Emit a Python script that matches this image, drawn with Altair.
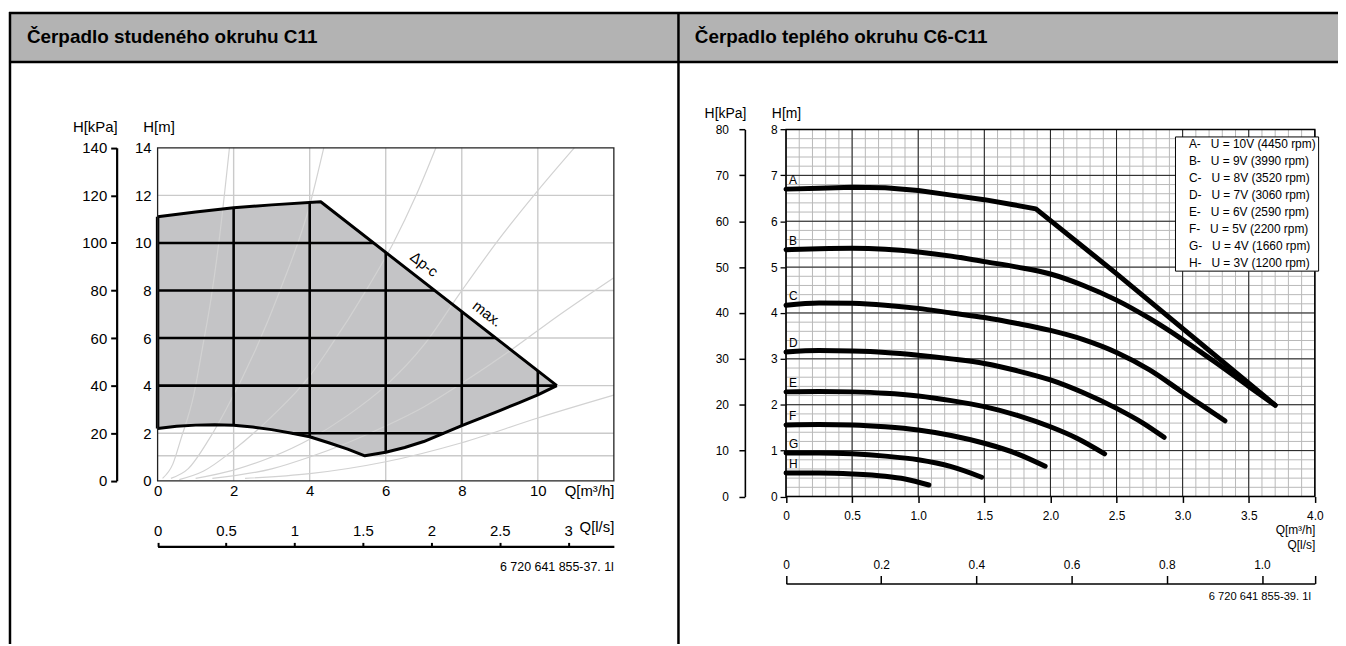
import altair as alt
import numpy as np
import pandas as pd

FONT = "Liberation Sans"
W, H = 1338, 638

# ---------------- texts ----------------
TITLE_LEFT = "Čerpadlo studeného okruhu C11"
TITLE_RIGHT = "Čerpadlo teplého okruhu C6-C11"
NOTE_LEFT = "6 720 641 855-37. 1l"
NOTE_RIGHT = "6 720 641 855-39. 1l"

# ---------------- left chart data ----------------
L_Q_MAX = 12
L_H_MAX = 14
L_KPA_MAX = 140
M3H_PER_LS = 3.6
L_Q_TICKS = [0, 2, 4, 6, 8, 10]
L_H_TICKS = [0, 2, 4, 6, 8, 10, 12, 14]
L_KPA_TICKS = [0, 20, 40, 60, 80, 100, 120, 140]
L_LS_TICKS = [0, 0.5, 1, 1.5, 2, 2.5, 3]
L_GRID_Q = [2, 4, 6, 8, 10]
L_GRID_H = [1.05, 2, 4, 6, 8, 10, 12]
L_BLACK_H = [2, 4, 6, 8, 10, 12]

UPPER_Q = [0, 1, 2, 3, 4.29, 10.5]
UPPER_H = [11.1, 11.3, 11.48, 11.6, 11.73, 4.0]
LOWER_Q = [0, 0.5, 1.0, 1.5, 2.0, 2.5, 3.0, 3.5, 4.0, 4.5, 5.0, 5.45, 6.0, 6.5,
           7.0, 7.5, 8.0, 8.5, 9.0, 9.5, 10.0, 10.5]
LOWER_H = [2.2, 2.29, 2.34, 2.36, 2.33, 2.26, 2.15, 2.01, 1.85, 1.6, 1.33, 1.05, 1.2, 1.4,
           1.65, 1.98, 2.32, 2.63, 2.95, 3.28, 3.61, 4.0]

SYS_Q = {
    "s1": [0.13, 0.4, 0.61, 0.95, 1.17, 1.4, 1.61, 1.89],
    "s2": [0.35, 0.8, 1.35, 1.8, 2.57, 3.22, 4.02, 4.37],
    "s3": [0.57, 1.2, 2.0, 3.0, 4.0, 4.48, 5.52, 6.2, 6.8, 7.32],
    "s4": [1.0, 2.0, 3.0, 4.0, 5.0, 6.0, 7.0, 7.94, 9.0, 10.0, 10.96],
    "s5": [1.44, 3.0, 4.0, 5.0, 6.0, 7.0, 8.0, 9.3, 10.5, 12.0],
    "s6": [2.3, 4.0, 6.0, 8.0, 10.0, 12.0],
}
SYS_H = {
    "s1": [0.1, 0.7, 1.74, 3.6, 5.5, 7.6, 10.0, 14.0],
    "s2": [0.1, 0.5, 1.74, 3.0, 5.49, 8.0, 11.7, 14.0],
    "s3": [0.05, 0.4, 1.3, 2.7, 4.4, 5.49, 8.1, 10.0, 12.0, 14.0],
    "s4": [0.1, 0.45, 1.0, 1.75, 2.75, 4.0, 5.7, 7.86, 10.2, 12.2, 14.0],
    "s5": [0.1, 0.5, 1.0, 1.6, 2.3, 3.1, 4.1, 5.5, 6.9, 8.54],
    "s6": [0.1, 0.3, 0.8, 1.6, 2.64, 3.6],
}

ANNOT_TEXT = ["Δp-c", "max."]
ANNOT_Q = [7.01, 8.67]
ANNOT_H = [9.1, 7.02]

# ---------------- right chart data ----------------
R_Q_MAX = 4
R_H_MAX = 8
R_KPA_MAX = 80
R_Q_TICKS = [0, 0.5, 1.0, 1.5, 2.0, 2.5, 3.0, 3.5, 4.0]
R_H_TICKS = [0, 1, 2, 3, 4, 5, 6, 7, 8]
R_KPA_TICKS = [0, 10, 20, 30, 40, 50, 60, 70, 80]
R_LS_TICKS = [0, 0.2, 0.4, 0.6, 0.8, 1.0, R_Q_MAX / M3H_PER_LS]
R_MINOR_Q = [i / 10 for i in range(41)]
R_MINOR_H = [i / 5 for i in range(41)]

CURVE_NAMES = ["A", "B", "C", "D", "E", "F", "G", "H"]
CURVE_U = ["10V (4450 rpm)", "9V (3990 rpm)", "8V (3520 rpm)", "7V (3060 rpm)",
           "6V (2590 rpm)", "5V (2200 rpm)", "4V (1660 rpm)", "3V (1200 rpm)"]
CURVE_Q = {
    "A": [0, 0.25, 0.5, 0.75, 1.0, 1.25, 1.5, 1.72, 1.89, 2.49, 3.70],
    "B": [0, 0.25, 0.5, 0.75, 1.0, 1.25, 1.5, 1.75, 2.0, 2.25, 2.5, 2.75, 3.0, 3.25, 3.5, 3.70],
    "C": [0, 0.25, 0.5, 0.75, 1.0, 1.25, 1.5, 1.75, 2.0, 2.25, 2.5, 2.75, 3.0, 3.15, 3.32],
    "D": [0, 0.25, 0.5, 0.75, 1.0, 1.25, 1.5, 1.75, 2.0, 2.25, 2.5, 2.7, 2.86],
    "E": [0, 0.25, 0.5, 0.75, 1.0, 1.25, 1.5, 1.75, 2.0, 2.2, 2.41],
    "F": [0, 0.25, 0.5, 0.75, 1.0, 1.25, 1.5, 1.75, 1.96],
    "G": [0, 0.25, 0.5, 0.75, 1.0, 1.25, 1.48],
    "H": [0, 0.25, 0.5, 0.75, 0.9, 1.08],
}
CURVE_H = {
    "A": [6.70, 6.72, 6.74, 6.73, 6.67, 6.57, 6.47, 6.36, 6.27, 4.88, 1.99],
    "B": [5.38, 5.40, 5.41, 5.39, 5.33, 5.24, 5.12, 5.0, 4.85, 4.6, 4.28, 3.88, 3.42, 2.92, 2.4, 1.99],
    "C": [4.17, 4.22, 4.21, 4.17, 4.10, 4.0, 3.9, 3.77, 3.62, 3.42, 3.14, 2.76, 2.27, 1.98, 1.65],
    "D": [3.15, 3.18, 3.17, 3.14, 3.08, 3.0, 2.9, 2.74, 2.54, 2.26, 1.92, 1.6, 1.29],
    "E": [2.28, 2.29, 2.28, 2.25, 2.19, 2.09, 1.96, 1.77, 1.52, 1.27, 0.93],
    "F": [1.56, 1.57, 1.56, 1.52, 1.45, 1.33, 1.16, 0.93, 0.66],
    "G": [0.95, 0.95, 0.93, 0.88, 0.80, 0.65, 0.42],
    "H": [0.51, 0.51, 0.49, 0.44, 0.38, 0.25],
}

# ---------------- layout (pixels inside the single view) ----------------
L_XR = [150.5, 609.5]
L_YR = [473.7, 138.7]
L_KPA_X = 109.3
L_LS_Y = 539.7
R_XR = [782.7, 1314.7]
R_YR = [489.5, 120.3]
R_KPA_X = 741.3
R_LS_Y = 577.0

GRID_LIGHT = "#cacaca"
FILL_GREY = "#c4c4c6"
SYS_GREY = "#d2d2d2"

ONE = pd.DataFrame({"k": [0]})


def axis(orient, offset, values, fs, **kw):
    base = dict(orient=orient, offset=offset, values=values, labelFont=FONT, labelFontSize=fs,
                labelColor="black", labelFlush=False, labelOverlap=False, labelBound=False,
                grid=False, titleFont=FONT, titleFontSize=fs, titleFontWeight="normal",
                titleColor="black", titleAngle=0, tickColor="black", domainColor="black")
    base.update(kw)
    return alt.Axis(**base)


def sc(domain, rng):
    return alt.Scale(domain=domain, range=rng, nice=False, zero=False)


def axis_layer(values, channel, scale, ax):
    df = pd.DataFrame({"v": values})
    if channel == "x":
        enc = alt.X("v:Q", scale=scale, axis=ax)
        return alt.Chart(df).mark_point(opacity=0).encode(x=enc)
    enc = alt.Y("v:Q", scale=scale, axis=ax)
    return alt.Chart(df).mark_point(opacity=0).encode(y=enc)


# ============ decoration (frame + header) ============
deco = [
    alt.Chart(ONE).mark_rect(color="#b3b3b3").encode(
        x=alt.value(2), x2=alt.value(W), y=alt.value(3), y2=alt.value(52.5)),
    alt.Chart(ONE).mark_rule(color="black", strokeWidth=2.5).encode(
        x=alt.value(1), x2=alt.value(W), y=alt.value(3)),
    alt.Chart(ONE).mark_rule(color="black", strokeWidth=2.5).encode(
        x=alt.value(1), x2=alt.value(W), y=alt.value(52.5)),
    alt.Chart(ONE).mark_rule(color="black", strokeWidth=2.5).encode(
        x=alt.value(2), y=alt.value(2), y2=alt.value(H)),
    alt.Chart(ONE).mark_rule(color="black", strokeWidth=2.5).encode(
        x=alt.value(674.5), y=alt.value(2), y2=alt.value(H)),
    alt.Chart(ONE).mark_text(font=FONT, fontSize=19, fontWeight="bold", align="left",
                             baseline="alphabetic", color="black").encode(
        x=alt.value(19), y=alt.value(33.5), text=alt.value(TITLE_LEFT)),
    alt.Chart(ONE).mark_text(font=FONT, fontSize=19, fontWeight="bold", align="left",
                             baseline="alphabetic", color="black").encode(
        x=alt.value(691), y=alt.value(33.5), text=alt.value(TITLE_RIGHT)),
    alt.Chart(ONE).mark_text(font=FONT, fontSize=12.5, align="right", baseline="alphabetic",
                             color="black").encode(
        x=alt.value(L_XR[1]), y=alt.value(564.5), text=alt.value(NOTE_LEFT)),
    alt.Chart(ONE).mark_text(font=FONT, fontSize=11.2, align="right", baseline="alphabetic",
                             color="black").encode(
        x=alt.value(R_XR[1] - 4), y=alt.value(594), text=alt.value(NOTE_RIGHT)),
]

# ============ left chart ============
LX = sc([0, L_Q_MAX], L_XR)
LY = sc([0, L_H_MAX], L_YR)


def lx(f):
    return alt.X(f, type="quantitative", scale=LX, axis=None)


def ly(f):
    return alt.Y(f, type="quantitative", scale=LY, axis=None)


lgrid_v = alt.Chart(pd.DataFrame({"Q": L_GRID_Q, "H0": 0, "H1": L_H_MAX})).mark_rule(
    color=GRID_LIGHT, strokeWidth=1.4).encode(x=lx("Q"), y=ly("H0"), y2="H1")
lgrid_h = alt.Chart(pd.DataFrame({"H": L_GRID_H, "Q0": 0, "Q1": L_Q_MAX})).mark_rule(
    color=GRID_LIGHT, strokeWidth=1.4).encode(y=ly("H"), x=lx("Q0"), x2="Q1")

poly_q = sorted(set(UPPER_Q) | set(LOWER_Q))
poly_df = pd.DataFrame({"Q": poly_q,
                        "Hu": np.interp(poly_q, UPPER_Q, UPPER_H),
                        "Hl": np.interp(poly_q, LOWER_Q, LOWER_H)})
poly = alt.Chart(poly_df).mark_area(color=FILL_GREY, opacity=1).encode(
    x=lx("Q"), y=ly("Hu"), y2="Hl")

sys_df = pd.concat([pd.DataFrame({"c": k, "Q": SYS_Q[k], "H": SYS_H[k]}) for k in SYS_Q])
sys_lines = alt.Chart(sys_df).mark_line(color=SYS_GREY, strokeWidth=1.2, interpolate="monotone",
                                        clip=True).encode(
    x=lx("Q"), y=ly("H"), detail="c:N")

vseg = pd.DataFrame({"Q": L_GRID_Q,
                     "H1": np.interp(L_GRID_Q, LOWER_Q, LOWER_H),
                     "H2": np.interp(L_GRID_Q, UPPER_Q, UPPER_H)})
qs = np.linspace(0, UPPER_Q[-1], 4001)
lo = np.interp(qs, LOWER_Q, LOWER_H)
up = np.interp(qs, UPPER_Q, UPPER_H)
rows = []
for hv in L_BLACK_H:
    m = (lo < hv) & (up > hv)
    if not m.any():
        continue
    idx = np.where(m)[0]
    br = np.where(np.diff(idx) > 1)[0]
    starts = np.r_[idx[0], idx[br + 1]]
    ends = np.r_[idx[br], idx[-1]]
    for s, e in zip(starts, ends):
        rows.append({"H": hv, "Q1": qs[s], "Q2": qs[e]})
hseg = pd.DataFrame(rows)

black_v = alt.Chart(vseg).mark_rule(color="black", strokeWidth=2.6).encode(
    x=lx("Q"), y=ly("H1"), y2="H2")
black_h = alt.Chart(hseg).mark_rule(color="black", strokeWidth=2.6).encode(
    y=ly("H"), x=lx("Q1"), x2="Q2")

upper_line = alt.Chart(pd.DataFrame({"Q": UPPER_Q, "H": UPPER_H})).mark_line(
    color="black", strokeWidth=3, strokeJoin="round").encode(x=lx("Q"), y=ly("H"))
lower_line = alt.Chart(pd.DataFrame({"Q": LOWER_Q, "H": LOWER_H})).mark_line(
    color="black", strokeWidth=3, strokeJoin="round").encode(x=lx("Q"), y=ly("H"))
left_edge = alt.Chart(pd.DataFrame({"Q": [LOWER_Q[0]], "H1": [LOWER_H[0]], "H2": [UPPER_H[0]]})).mark_rule(
    color="black", strokeWidth=3.5).encode(x=lx("Q"), y=ly("H1"), y2="H2")

l_frame = alt.Chart(pd.DataFrame({"Q0": [0], "Q1": [L_Q_MAX], "H0": [0], "H1": [L_H_MAX]})).mark_rect(
    filled=False, stroke="#222222", strokeWidth=1.3).encode(
    x=lx("Q0"), x2="Q1", y=ly("H0"), y2="H1")

annot = alt.Chart(pd.DataFrame({"t": ANNOT_TEXT, "Q": ANNOT_Q, "H": ANNOT_H})).mark_text(
    font=FONT, fontSize=15, angle=38, align="center", baseline="middle", color="black").encode(
    x=lx("Q"), y=ly("H"), text="t:N")

left_main = alt.layer(lgrid_v, lgrid_h, poly, sys_lines, black_v, black_h, upper_line,
                      lower_line, left_edge, l_frame, annot)

left_axes = [
    axis_layer(L_Q_TICKS, "x", LX,
               axis("bottom", L_YR[0] - H, L_Q_TICKS, 15, ticks=False, tickSize=0, domain=False,
                    labelPadding=2.5, format="d", title="Q[m³/h]", titleX=L_XR[1], titleY=10,
                    titleAlign="right", titleBaseline="middle")),
    axis_layer(L_H_TICKS, "y", LY,
               axis("left", -L_XR[0], L_H_TICKS, 15, ticks=False, tickSize=0, domain=False,
                    labelPadding=6.5, format="d", title="H[m]", titleX=1, titleY=117,
                    titleAlign="center", titleBaseline="middle")),
    axis_layer(L_KPA_TICKS, "y", sc([0, L_KPA_MAX], L_YR),
               axis("left", -L_KPA_X, L_KPA_TICKS, 15, tickSize=6, tickWidth=2, domain=True,
                    domainWidth=2.2, labelPadding=4, format="d", title="H[kPa]", titleX=-22,
                    titleY=117, titleAlign="center", titleBaseline="middle")),
    axis_layer(L_LS_TICKS, "x", sc([0, L_Q_MAX / M3H_PER_LS], L_XR),
               axis("top", -L_LS_Y, L_LS_TICKS, 15, tickSize=4, tickWidth=2, domain=True,
                    domainWidth=2.5, labelPadding=3.5,
                    labelExpr="datum.value == floor(datum.value) ? format(datum.value, 'd') : format(datum.value, '.1f')",
                    title="Q[l/s]", titleX=L_XR[1], titleY=-20, titleAlign="right",
                    titleBaseline="middle")),
]

# ============ right chart ============
RX = sc([0, R_Q_MAX], R_XR)
RY = sc([0, R_H_MAX], R_YR)


def rx(f):
    return alt.X(f, type="quantitative", scale=RX, axis=None)


def ry(f):
    return alt.Y(f, type="quantitative", scale=RY, axis=None)


rminor_v = alt.Chart(pd.DataFrame({"Q": R_MINOR_Q, "H0": 0, "H1": R_H_MAX})).mark_rule(
    color="#b8b8b8", strokeWidth=1).encode(x=rx("Q"), y=ry("H0"), y2="H1")
rminor_h = alt.Chart(pd.DataFrame({"H": R_MINOR_H, "Q0": 0, "Q1": R_Q_MAX})).mark_rule(
    color="#b8b8b8", strokeWidth=1).encode(y=ry("H"), x=rx("Q0"), x2="Q1")
rmajor_v = alt.Chart(pd.DataFrame({"Q": R_Q_TICKS, "H0": 0, "H1": R_H_MAX})).mark_rule(
    color="#1e1e1e", strokeWidth=1).encode(x=rx("Q"), y=ry("H0"), y2="H1")
rmajor_h = alt.Chart(pd.DataFrame({"H": R_H_TICKS, "Q0": 0, "Q1": R_Q_MAX})).mark_rule(
    color="#1e1e1e", strokeWidth=1).encode(y=ry("H"), x=rx("Q0"), x2="Q1")

r_frame = alt.Chart(pd.DataFrame({"Q0": [0], "Q1": [R_Q_MAX], "H0": [0], "H1": [R_H_MAX]})).mark_rect(
    filled=False, stroke="black", strokeWidth=1.4).encode(
    x=rx("Q0"), x2="Q1", y=ry("H0"), y2="H1")

leg_labels = [f"{n}-\u00a0\u00a0\u00a0U = {u}\u00a0" for n, u in zip(CURVE_NAMES, CURVE_U)]
curve_df = pd.concat([pd.DataFrame({"c": n, "lab": lab, "Q": CURVE_Q[n], "H": CURVE_H[n]})
                      for n, lab in zip(CURVE_NAMES, leg_labels)])

color_enc = alt.Color("lab:N", scale=alt.Scale(domain=leg_labels, range=["black"] * 8),
                      legend=alt.Legend(orient="none", legendX=1174, legendY=127.3, title=None,
                                        fillColor="white", strokeColor="black", padding=2,
                                        symbolSize=0, symbolStrokeWidth=0, symbolOpacity=0,
                                        labelOffset=0, labelFont=FONT, labelFontSize=12,
                                        labelColor="black", labelLimit=400, rowPadding=5))

curve_a = alt.Chart(curve_df[curve_df["c"] == "A"]).mark_line(
    strokeWidth=5, strokeCap="round", strokeJoin="round").encode(
    x=rx("Q"), y=ry("H"), color=color_enc)
curve_rest = alt.Chart(curve_df[curve_df["c"] != "A"]).mark_line(
    strokeWidth=5, strokeCap="round", strokeJoin="round", interpolate="monotone").encode(
    x=rx("Q"), y=ry("H"), color=color_enc)

start_df = pd.DataFrame({"c": CURVE_NAMES, "Q": [CURVE_Q[n][0] for n in CURVE_NAMES],
                         "H": [CURVE_H[n][0] for n in CURVE_NAMES]})
curve_lbl = alt.Chart(start_df).mark_text(font=FONT, fontSize=12, align="left",
                                          baseline="middle", dx=3, dy=-9, color="black").encode(
    x=rx("Q"), y=ry("H"), text="c:N")

right_main = alt.layer(rminor_v, rminor_h, rmajor_v, rmajor_h, r_frame, curve_rest, curve_a,
                       curve_lbl)

right_axes = [
    axis_layer(R_Q_TICKS, "x", RX,
               axis("bottom", R_YR[0] - H, R_Q_TICKS, 12, tickSize=6, tickWidth=1.5, domain=False,
                    labelPadding=8,
                    labelExpr="datum.value == 0 ? '0' : format(datum.value, '.1f')",
                    title="Q[m³/h]", titleX=R_XR[1], titleY=33, titleAlign="right",
                    titleBaseline="middle")),
    axis_layer(R_H_TICKS, "y", RY,
               axis("left", -R_XR[0], R_H_TICKS, 12, tickSize=6, tickWidth=1.3, domain=False,
                    labelPadding=3, format="d", title="H[m]", titleFontSize=14, titleX=0,
                    titleY=104, titleAlign="center", titleBaseline="middle")),
    axis_layer(R_KPA_TICKS, "y", sc([0, R_KPA_MAX], R_YR),
               axis("left", -R_KPA_X, R_KPA_TICKS, 12, tickSize=6, tickWidth=1.5, domain=True,
                    domainWidth=1.6, labelPadding=10.5, format="d", title="H[kPa]",
                    titleFontSize=14, titleX=-20, titleY=104, titleAlign="center",
                    titleBaseline="middle")),
    axis_layer(R_LS_TICKS, "x", sc([0, R_Q_MAX / M3H_PER_LS], R_XR),
               axis("top", -R_LS_Y, R_LS_TICKS, 12, tickSize=8, tickWidth=1.5, domain=True,
                    domainWidth=1.6, labelPadding=4.5,
                    labelExpr="datum.value == 0 ? '0' : datum.value > 1.05 ? '' : format(datum.value, '.1f')",
                    title="Q[l/s]", titleX=R_XR[1], titleY=-39, titleAlign="right",
                    titleBaseline="middle")),
]

chart = alt.layer(*deco, left_main, *left_axes, right_main, *right_axes).resolve_scale(
    x="independent", y="independent").properties(
    width=W, height=H, autosize=alt.AutoSizeParams(type="none"), padding=0,
    background="white").configure_view(strokeWidth=0)

chart.save("out.html", embed_options={"renderer": "svg", "actions": False})
